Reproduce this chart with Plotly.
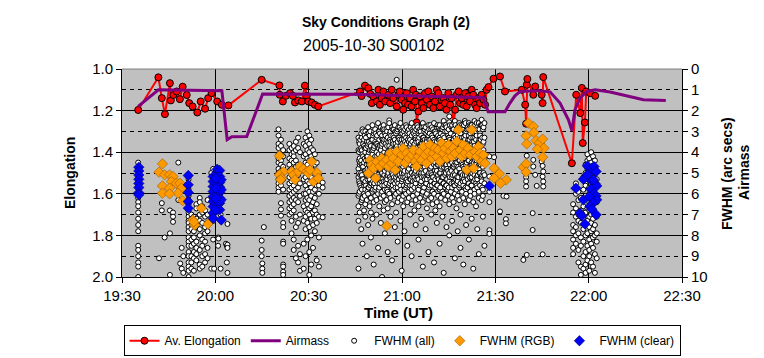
import plotly.graph_objects as go

# ---------------- data (time = minutes after 19:30 UT) ----------------
time_ticks = [0, 30, 60, 90, 120, 150, 180]
time_labels = ["19:30", "20:00", "20:30", "21:00", "21:30", "22:00", "22:30"]

elong_t = [5.2, 11.7, 12.8, 13.8, 15.4, 15.7, 16.5, 17.6, 18.6, 19.5, 20.8, 21.6, 22.7, 24.2, 25.3,
           26.7, 27.7, 28.8, 30.6, 32.1, 34.2, 44.9, 50.6, 50.7, 51.7, 52.7, 54.0, 54.9, 55.6, 56.7,
           57.8, 58.8, 59.4, 59.9, 61.0, 62.0, 63.1,
           76.5, 77.0, 78.1, 79.2, 79.8, 80.3, 80.8, 81.9, 82.4, 82.9, 83.5, 84.0, 84.6, 85.6, 86.2,
           86.7, 87.2, 88.3, 88.8, 89.3, 89.9, 90.4, 91.0, 91.5, 92.0, 92.6, 93.1, 93.6, 94.2, 94.5,
           94.7, 95.3, 95.8, 96.4, 96.9, 97.4, 98.0, 98.5, 99.0, 99.6, 100.1, 100.6, 101.2, 101.7,
           102.2, 102.7, 103.3, 103.8, 104.3, 104.9, 105.5, 106.0, 106.5, 107.1, 107.6, 108.2, 108.7,
           109.2, 109.7, 110.3, 110.8, 111.4, 111.9, 112.4, 112.9, 113.5, 114.0, 114.5, 115.1, 115.6,
           116.2, 116.7, 117.2, 117.8, 119.4, 121.5, 123.1, 128.5, 129.6, 129.9, 130.1, 130.3, 132.2,
           132.8, 134.9, 135.2, 135.4, 144.6, 146.0, 147.3, 147.8, 148.1, 148.8, 149.2, 150.5, 152.1]
elong_v = [1.197, 1.040, 1.140, 1.217, 1.068, 1.151, 1.125, 1.108, 1.145, 1.085, 1.125, 1.164, 1.180,
           1.209, 1.156, 1.191, 1.140, 1.116, 1.156, 1.172, 1.175, 1.052, 1.079, 1.124, 1.156, 1.129,
           1.116, 1.129, 1.161, 1.151, 1.156, 1.080, 1.129, 1.156, 1.161, 1.172, 1.180,
           1.108, 1.130, 1.080, 1.092, 1.120, 1.164, 1.132, 1.156, 1.100, 1.172, 1.140, 1.108, 1.156,
           1.124, 1.164, 1.100, 1.140, 1.180, 1.124, 1.108, 1.148, 1.196, 1.164, 1.116, 1.172, 1.140,
           1.180, 1.100, 1.156, 1.124, 1.257, 1.204, 1.132, 1.164, 1.188, 1.116, 1.148, 1.108, 1.172,
           1.132, 1.188, 1.156, 1.100, 1.116, 1.180, 1.148, 1.140, 1.164, 1.196, 1.116, 1.172, 1.140,
           1.284, 1.196, 1.124, 1.108, 1.164, 1.140, 1.172, 1.116, 1.180, 1.132, 1.156, 1.100, 1.124,
           1.172, 1.188, 1.140, 1.164, 1.124, 1.148, 1.172, 1.100, 1.087, 1.047, 1.036, 1.108, 1.100,
           1.172, 1.263, 1.076, 1.048, 1.124, 1.084, 1.124, 1.164, 1.039, 1.453, 1.124, 1.212, 1.091,
           1.356, 1.257, 1.108, 1.116, 1.129]

airmass_t = [5.2, 11.7, 32.1, 33.8, 35.3, 40.1, 45.2, 73.3, 95.0, 116.1, 117.7, 123.1, 124.7, 126.3,
             128.0, 133.3, 137.6, 140.8, 143.5, 144.6, 145.6, 147.2, 149.4, 152.1, 156.9, 167.6, 174.8]
airmass_v = [1.80, 1.00, 1.04, 3.40, 3.26, 3.25, 1.20, 1.21, 1.30, 1.37, 2.06, 2.06, 1.64, 1.29,
             1.08, 1.04, 1.10, 1.64, 2.44, 2.96, 1.96, 1.40, 1.08, 1.00, 1.11, 1.48, 1.51]

# FWHM (all): image time -> FWHM values of the stars measured in that image
fwhm_all = [
    (5.2, [4.5, 6.2, 6.4, 6.6, 6.9, 7.2, 7.5, 7.8, 8.5, 8.7, 9.0, 9.3, 9.5, 10.0]),
    (11.9, [9.1]), (12.8, [6.45, 6.8]), (13.7, [8.1]), (15.4, [6.8, 7.9, 9.9]),
    (16.4, [6.9, 7.1, 7.35]), (18.1, [4.5, 6.3]), (18.7, [9.35]), (19.2, [8.6, 9.6]), (19.7, [9.0, 9.8]),
    (21.4, [5.3, 5.6, 5.8, 6.1, 6.3, 6.5, 6.8, 6.9, 7.1, 7.3, 7.4, 7.6, 7.8, 8.1, 8.3, 8.5, 8.8, 9.0,
            9.3, 9.5, 9.7, 10.0]),
    (22.3, [7.0, 7.2, 7.5, 7.7, 8.2, 8.5, 9.0, 9.3, 9.6]),
    (23.1, [7.1, 7.4, 7.8, 8.1, 8.4, 8.8, 9.1, 9.7]),
    (23.9, [6.5, 6.7, 7.2, 7.6, 8.3, 8.6, 8.9, 9.2]),
    (25.0, [6.2, 6.4, 7.0, 7.3, 7.7, 8.0, 8.7, 9.4, 9.6]),
    (25.8, [6.6, 6.9, 7.4, 8.2, 8.5, 9.0, 9.5]),
    (26.7, [6.8, 7.1, 7.6, 7.9, 8.3, 8.9, 9.3]),
    (27.5, [6.3, 7.0, 7.4, 7.8, 8.6, 9.1]),
    (28.7, [5.0, 7.3, 9.6]),
    (29.3, [4.8, 5.3, 5.9, 6.4, 7.0, 7.3, 8.2]), (29.6, [9.6]),
    (30.2, [5.1, 5.7, 6.3, 6.8]), (30.9, [4.9, 5.5, 6.1, 6.7, 8.1, 8.5]),
    (31.0, [8.15]), (31.7, [7.0, 9.6]), (33.4, [8.4]), (33.7, [8.5, 9.3]),
    (33.9, [7.45, 8.45, 8.6, 9.8]),
    (44.9, [8.25, 8.7, 9.0]), (45.1, [9.35, 9.6, 9.8]), (45.6, [7.6]),
    (50.3, [2.9, 3.2, 3.6, 3.8, 4.1, 4.3, 4.5, 4.8, 5.0, 5.3, 5.5, 5.7, 5.9]),
    (51.1, [3.4, 3.7, 4.1, 4.4, 4.6, 4.9, 5.1, 5.4, 5.6, 6.45, 6.75, 7.05]),
    (51.8, [3.9, 4.2, 4.7, 5.3, 5.8, 7.4, 7.6, 8.3, 8.4, 9.4, 9.5, 9.75, 9.9]),
    (53.8, [3.6, 3.9, 4.3, 4.6, 4.9, 5.2, 5.5, 5.8, 6.1, 6.4, 6.7, 7.0]),
    (54.5, [3.8, 4.1, 4.4, 4.8, 5.1, 5.4, 5.7, 6.0, 6.3, 6.6, 6.9, 7.3, 7.9]),
    (55.2, [3.7, 4.0, 4.2, 4.5, 5.0, 5.3, 5.6, 5.9, 6.2, 6.5, 6.8, 8.2, 8.7]),
    (55.9, [3.5, 3.9, 4.4, 4.7, 5.2, 5.8, 6.3, 7.1, 7.6, 9.1]),
    (56.6, [3.3, 3.8, 4.6, 5.1, 5.7, 6.4, 7.4, 8.5, 9.3]),
    (57.2, [4.0, 4.8, 5.5, 6.1, 7.0, 8.9, 9.7]),
    (58.4, [3.6, 4.2, 4.7, 5.3, 6.0, 6.6, 7.3, 8.4, 9.6]),
    (59.0, [3.3, 3.7, 4.1, 4.5, 4.9, 5.2, 5.6, 6.0, 6.3, 6.8, 7.1, 7.7, 9.0]),
    (59.6, [3.0, 3.5, 3.9, 4.3, 4.6, 5.0, 5.4, 5.8, 6.2, 6.5, 6.9, 7.4, 8.2]),
    (60.2, [3.2, 3.6, 4.0, 4.4, 4.8, 5.1, 5.5, 5.9, 6.3, 6.7, 7.0, 7.6, 8.8, 9.9]),
    (60.8, [3.4, 3.8, 4.2, 4.7, 5.2, 5.7, 6.1, 6.6, 7.2, 8.0, 9.4]),
    (61.4, [3.9, 4.4, 4.9, 5.4, 5.9, 6.4, 6.9, 7.5, 8.6]),
    (62.0, [4.1, 4.6, 5.3, 5.8, 6.2, 6.8, 7.2, 7.8]),
    (62.6, [4.5, 5.0, 5.6, 6.5, 7.0, 7.4, 9.2]),
    (63.3, [5.1, 5.6, 6.0, 7.1, 8.1, 9.5]),
    (64.5, [5.46, 5.7, 7.13]),
    (76.0, [3.3, 3.9, 4.8, 5.2, 6.1, 6.6, 7.3, 9.6]),
    (76.2, [3.5, 4.0, 4.4, 5.0, 5.4, 6.0]),
    (76.4, [3.6, 4.3, 4.6, 5.5, 5.9, 6.9]),
    (76.6, [3.4, 3.9, 4.5, 5.1, 5.6]),
    (76.9, [3.1, 3.8, 4.4, 5.0, 5.7, 6.4, 7.7]),
    (77.1, [3.3, 3.9, 4.6, 5.1, 5.8, 6.3]),
    (77.3, [2.9, 4.1, 4.7, 5.3, 6.2, 8.4]),
    (77.5, [3.0, 3.6, 4.2, 4.7, 5.3]),
    (77.8, [3.4, 3.7, 4.5, 5.6, 6.0, 6.8]),
    (78.0, [3.2, 3.8, 4.3, 4.9, 5.5, 6.1]),
    (78.2, [3.0, 4.0, 4.9, 5.4, 5.8, 6.5, 7.1]),
    (78.4, [3.3, 3.8, 4.4, 5.0, 5.6]),
    (78.7, [3.5, 4.2, 4.6, 5.1, 6.3, 9.0]),
    (78.9, [3.1, 3.7, 4.2, 4.8, 5.3, 5.9]),
    (79.1, [2.8, 3.6, 4.4, 5.7, 6.0, 7.5]),
    (79.3, [3.1, 3.5, 4.0, 4.6, 5.2, 5.7]),
    (79.6, [3.2, 3.9, 4.8, 5.3, 6.6]),
    (79.8, [3.0, 3.6, 4.5, 4.9, 5.6, 6.2]),
    (80.0, [3.7, 4.3, 5.0, 5.5, 6.2, 6.9, 8.1]),
    (80.2, [3.4, 3.9, 4.6, 5.1, 5.5]),
    (80.5, [2.7, 3.4, 4.1, 4.7, 5.9, 7.2]),
    (80.7, [3.2, 3.9, 4.3, 5.0, 5.4, 5.8]),
    (80.9, [3.1, 3.8, 4.5, 5.2, 5.6, 6.4, 9.4]),
    (81.1, [3.0, 3.7, 4.3, 4.9, 5.5]),
    (81.4, [2.9, 3.5, 4.2, 4.9, 5.8, 6.1]),
    (81.6, [3.1, 3.6, 4.4, 4.7, 5.3, 5.7]),
    (81.8, [3.3, 4.0, 4.6, 5.4, 6.3, 7.0]),
    (82.0, [3.2, 3.6, 4.2, 4.8, 5.3]),
    (82.3, [2.6, 3.7, 4.4, 5.1, 5.5, 6.0, 8.6]),
    (82.5, [3.0, 3.8, 4.1, 4.6, 5.2, 5.8]),
    (82.7, [3.0, 3.4, 4.3, 4.8, 5.7, 6.6]),
    (82.9, [3.1, 3.7, 4.4, 4.7, 5.5]),
    (83.2, [2.8, 3.9, 4.5, 5.3, 6.2, 7.4]),
    (83.4, [3.3, 3.7, 4.3, 4.9, 5.4, 6.0]),
    (83.6, [3.2, 3.6, 4.1, 5.0, 5.6, 5.9, 10.0]),
    (83.8, [2.9, 3.4, 4.2, 4.8, 5.3]),
    (84.0, [2.84]),
    (84.1, [2.7, 3.5, 4.7, 5.4, 6.1, 6.8]),
    (84.3, [2.9, 3.4, 4.0, 4.6, 5.1, 5.6]),
    (84.5, [3.1, 3.8, 4.2, 4.9, 5.8, 6.4, 7.9]),
    (84.7, [3.2, 3.6, 4.3, 4.7, 5.4]),
    (85.0, [2.9, 3.4, 4.4, 5.2, 5.5, 6.3]),
    (85.2, [3.0, 3.7, 4.1, 4.8, 5.3, 5.8]),
    (85.4, [3.3, 4.0, 4.6, 5.1, 5.9, 6.7, 8.8]),
    (85.6, [2.8, 3.5, 4.1, 4.5, 5.0]),
    (85.9, [2.47, 2.6, 3.7, 4.3, 4.8, 5.6, 6.0]),
    (86.1, [3.1, 3.4, 4.2, 4.6, 5.2, 5.5]),
    (86.3, [3.0, 3.5, 4.5, 5.3, 6.2, 7.1]),
    (86.5, [3.2, 3.8, 4.3, 4.9, 5.4]),
    (86.8, [2.8, 3.9, 4.1, 5.0, 5.7, 6.5, 9.2]),
    (87.0, [2.9, 3.5, 4.0, 4.5, 5.1, 5.6]),
    (87.2, [3.2, 3.6, 4.7, 5.4, 5.8]),
    (87.4, [2.9, 3.3, 3.9, 4.6, 5.2]),
    (87.7, [2.7, 3.4, 4.2, 4.9, 5.5, 6.1, 7.6]),
    (87.9, [3.0, 3.6, 4.1, 4.7, 5.3, 5.7]),
    (88.1, [3.1, 3.8, 4.4, 5.2, 6.0, 6.9]),
    (88.3, [0.52]),
    (88.4, [3.0, 3.7, 4.2, 4.8, 5.4]),
    (88.6, [2.9, 3.5, 4.6, 5.1, 5.7, 6.4, 8.3]),
    (88.8, [2.8, 3.3, 4.0, 4.4, 5.0, 5.5]),
    (89.0, [3.3, 4.0, 4.3, 5.3, 5.9, 6.2]),
    (89.2, [2.8, 3.4, 4.0, 4.7, 5.1]),
    (89.5, [2.6, 3.7, 4.5, 4.8, 5.6, 7.3]),
    (89.7, [2.9, 3.5, 4.2, 4.6, 5.2, 5.8]),
    (89.9, [3.0, 3.4, 4.1, 5.0, 5.4, 6.3, 9.7]),
    (90.1, [3.1, 3.6, 4.3, 4.8, 5.3]),
    (90.4, [2.8, 3.9, 4.7, 5.2, 6.1, 6.6]),
    (90.6, [3.0, 3.4, 4.0, 4.5, 5.0, 5.6]),
    (90.8, [3.2, 3.6, 4.4, 4.9, 5.8, 7.8]),
    (91.0, [2.9, 3.5, 3.9, 4.6, 5.2]),
    (91.3, [2.7, 3.3, 4.2, 5.4, 5.7, 6.0]),
    (91.5, [2.8, 3.6, 4.1, 4.7, 5.3, 5.6]),
    (91.7, [3.1, 3.8, 4.6, 5.1, 5.5, 6.4, 8.5]),
    (91.9, [3.0, 3.4, 4.2, 4.9, 5.4]),
    (92.2, [2.9, 3.5, 4.0, 4.8, 5.9, 6.2]),
    (92.4, [3.1, 3.3, 3.9, 4.6, 5.1, 5.7]),
    (92.6, [3.4, 3.7, 4.5, 5.3, 5.6, 7.0]),
    (92.8, [2.8, 3.6, 4.1, 4.6, 5.3]),
    (93.1, [2.6, 3.2, 4.3, 5.0, 5.8, 6.5, 9.0]),
    (93.3, [2.9, 3.5, 4.0, 4.4, 5.2, 5.6]),
    (93.5, [3.0, 3.9, 4.1, 4.7, 5.4, 6.1]),
    (93.7, [3.1, 3.7, 4.3, 4.8, 5.1]),
    (94.0, [2.8, 3.6, 4.4, 5.2, 5.7, 6.8]),
    (94.2, [3.0, 3.2, 3.9, 4.5, 5.0, 5.4]),
    (94.4, [3.3, 3.4, 4.6, 4.9, 5.5, 6.3, 7.5]),
    (94.6, [2.9, 3.5, 4.0, 4.7, 5.3]),
    (94.9, [2.7, 3.8, 4.2, 5.1, 6.0]),
    (95.1, [2.8, 3.4, 4.1, 4.7, 5.2, 5.7]),
    (95.3, [3.1, 3.5, 4.5, 5.3, 5.8, 6.6, 8.2]),
    (95.5, [3.0, 3.3, 4.2, 4.5, 5.0]),
    (95.8, [2.9, 3.7, 4.0, 4.8, 5.6, 6.2]),
    (96.0, [3.0, 3.6, 3.9, 4.5, 5.1, 5.5]),
    (96.2, [3.2, 3.9, 4.4, 5.0, 5.4, 7.2]),
    (96.4, [2.8, 3.6, 4.1, 4.8, 5.2]),
    (96.7, [2.6, 3.3, 4.3, 4.7, 5.9, 6.4, 9.5]),
    (96.9, [2.8, 3.3, 4.0, 4.6, 5.0, 5.6]),
    (97.1, [3.0, 3.6, 4.6, 5.2, 5.7]),
    (97.3, [2.9, 3.4, 4.3, 4.7, 5.3]),
    (97.6, [2.8, 3.8, 4.1, 4.9, 5.5, 6.1, 7.7]),
    (97.8, [3.1, 3.5, 4.2, 4.4, 5.2, 5.5]),
    (98.0, [3.4, 3.5, 4.5, 5.3, 6.0, 6.7]),
    (98.2, [3.0, 3.7, 3.9, 4.6, 5.1]),
    (98.5, [2.7, 3.2, 4.2, 5.1, 5.8, 6.3, 8.8]),
    (98.7, [2.9, 3.4, 3.9, 4.6, 5.0, 5.7]),
    (98.9, [3.1, 3.9, 4.4, 4.8, 5.6]),
    (99.1, [2.7, 3.4, 4.2, 4.8, 5.3]),
    (99.4, [2.9, 3.6, 4.7, 5.0, 5.4, 6.2, 7.0]),
    (99.6, [2.8, 3.2, 4.1, 4.5, 5.1, 5.6]),
    (99.8, [3.3, 3.7, 4.0, 5.2, 5.9, 6.5]),
    (100.0, [2.9, 3.5, 4.0, 4.5, 5.2]),
    (100.3, [2.6, 3.4, 4.3, 4.6, 5.5, 6.0, 9.3]),
    (100.5, [3.0, 3.5, 3.8, 4.4, 4.9, 5.5]),
    (100.7, [3.0, 3.8, 4.5, 5.3, 5.7, 6.8]),
    (100.9, [3.1, 3.6, 4.3, 4.7, 5.0]),
    (101.2, [2.8, 3.5, 4.1, 4.9, 5.6, 6.4, 7.4]),
    (101.4, [2.7, 3.3, 4.0, 4.6, 5.2, 5.6]),
    (101.6, [3.2, 3.9, 4.6, 5.1, 6.1]),
    (101.8, [2.8, 3.4, 3.9, 4.5, 5.3]),
    (102.1, [2.7, 3.3, 4.4, 5.0, 5.8, 6.6, 8.4]),
    (102.3, [2.9, 3.4, 3.9, 4.5, 5.0, 5.7]),
    (102.5, [3.1, 3.6, 4.2, 4.8, 5.4, 6.2]),
    (102.7, [2.9, 3.5, 4.2, 4.7, 5.2]),
    (103.0, [2.9, 3.7, 4.5, 5.2, 5.9, 7.1]),
    (103.2, [2.8, 3.2, 4.1, 4.4, 5.2, 5.5]),
    (103.4, [2.5, 3.4, 4.0, 4.7, 5.5, 6.0, 9.8]),
    (103.6, [2.7, 3.3, 4.0, 4.6, 5.0]),
    (103.9, [3.0, 3.8, 4.3, 5.1, 5.7, 6.3]),
    (104.1, [2.7, 3.5, 3.9, 4.6, 5.0, 5.6]),
    (104.3, [2.8, 3.5, 4.6, 5.3, 5.6, 7.6]),
    (104.5, [3.0, 3.6, 4.1, 4.8, 5.3]),
    (104.8, [3.2, 3.9, 4.1, 4.9, 5.8, 6.1]),
    (105.0, [2.9, 3.3, 4.0, 4.5, 5.1, 5.7]),
    (105.2, [2.28, 2.56, 3.3, 4.4, 5.0, 5.4, 6.5, 8.0]),
    (105.4, [2.7, 3.4, 3.9, 4.6, 5.2]),
    (105.7, [3.1, 3.6, 4.2, 4.8, 5.9]),
    (105.9, [2.8, 3.5, 3.8, 4.4, 4.9, 5.5]),
    (106.1, [2.7, 3.7, 4.5, 5.2, 5.7, 6.2, 7.3]),
    (106.3, [2.9, 3.5, 4.2, 4.7, 5.1]),
    (106.6, [2.9, 3.4, 4.0, 4.7, 5.5, 6.4]),
    (106.8, [2.6, 3.2, 4.0, 4.6, 5.0, 5.6]),
    (107.0, [2.5, 3.8, 4.3, 5.1, 5.6, 6.0, 9.1]),
    (107.2, [2.7, 3.3, 4.0, 4.5, 5.3]),
    (107.5, [3.0, 3.5, 4.6, 4.9, 5.8, 6.7]),
    (107.7, [2.9, 3.4, 3.9, 4.5, 5.2, 5.5]),
    (107.9, [2.8, 3.2, 4.1, 5.3, 5.4, 6.1, 7.8]),
    (108.1, [3.0, 3.6, 4.3, 4.7, 5.2]),
    (108.4, [2.6, 3.9, 4.4, 4.8, 5.7, 6.3]),
    (108.6, [2.7, 3.3, 4.0, 4.4, 5.0, 5.6]),
    (108.8, [3.1, 3.6, 4.2, 5.0, 5.5, 7.0, 8.6]),
    (109.0, [2.8, 3.4, 3.9, 4.6, 5.0]),
    (109.3, [2.7, 3.3, 4.5, 5.2, 5.9]),
    (109.5, [2.8, 3.5, 3.8, 4.6, 5.1, 5.4]),
    (109.7, [2.9, 3.7, 4.0, 4.7, 5.6, 6.2, 9.4]),
    (109.9, [2.7, 3.3, 4.1, 4.8, 5.3]),
    (110.2, [2.5, 3.4, 4.3, 5.1, 5.4, 6.5]),
    (110.4, [2.6, 3.2, 4.1, 4.5, 4.9, 5.7]),
    (110.6, [3.0, 3.8, 4.6, 4.9, 5.8, 6.0, 7.5]),
    (110.8, [2.9, 3.6, 4.0, 4.5, 5.1]),
    (111.1, [2.8, 3.5, 4.1, 5.3, 5.7]),
    (111.3, [2.9, 3.4, 3.9, 4.4, 5.0, 5.5]),
    (111.5, [2.6, 3.2, 4.4, 4.8, 5.5, 6.3, 8.2]),
    (111.7, [2.7, 3.4, 4.2, 4.7, 5.2]),
    (112.0, [3.1, 3.9, 4.2, 5.0, 5.9, 6.1]),
    (112.2, [2.7, 3.3, 4.0, 4.6, 5.1, 5.6]),
    (112.4, [2.7, 3.6, 4.5, 5.2, 5.6, 7.2]),
    (112.6, [2.9, 3.5, 3.9, 4.6, 5.0]),
    (112.9, [2.9, 3.3, 4.0, 4.7, 5.4, 6.4, 9.6]),
    (113.1, [2.8, 3.5, 3.8, 4.5, 4.9, 5.4]),
    (113.3, [2.5, 3.7, 4.3, 5.1, 5.8, 6.0]),
    (113.5, [2.7, 3.3, 4.1, 4.4, 5.3]),
    (113.8, [3.0, 3.4, 4.6, 4.9, 5.5, 6.6]),
    (114.0, [2.6, 3.2, 4.1, 4.4, 5.2, 5.6]),
    (114.2, [2.8, 3.8, 4.1, 5.3, 5.7, 7.7]),
    (114.4, [2.9, 3.6, 4.0, 4.7, 5.1]),
    (114.7, [2.6, 3.5, 4.4, 4.8, 5.9, 6.2, 8.9]),
    (114.9, [2.9, 3.4, 3.9, 4.6, 5.0, 5.5]),
    (115.1, [3.1, 3.2, 4.2, 5.0, 5.6]),
    (115.3, [2.7, 3.4, 4.2, 4.6, 5.2]),
    (115.6, [2.44, 2.7, 3.9, 4.5, 5.2, 5.4, 6.3]),
    (115.8, [2.7, 3.3, 4.0, 4.5, 5.1, 5.7]),
    (116.0, [2.9, 3.6, 4.0, 4.7, 5.8, 6.1, 7.1]),
    (116.2, [2.8, 3.5, 3.9, 4.5, 5.0]),
    (116.5, [2.6, 3.3, 4.3, 5.1, 5.5, 8.5]),
    (118.1, [4.2, 5.17, 5.9, 6.4, 7.75, 7.92]),
    (119.6, [4.24]), (121.5, [6.85]), (122.6, [6.10]), (123.4, [7.22, 7.42]), (123.6, [6.13]),
    (129.0, [9.18]), (129.9, [5.0, 5.2, 5.4, 5.65]), (130.1, [4.17, 8.94]),
    (132.0, [6.93, 7.74]), (132.2, [4.37, 4.69]), (132.8, [5.09]), (133.3, [5.62]),
    (134.9, [4.45]), (135.2, [4.66, 5.17, 8.91]), (135.4, [4.93, 5.41, 5.65]),
    (145.0, [6.5, 6.9, 7.5, 7.8, 8.2, 8.6, 8.9]),
    (145.9, [5.5, 6.0, 6.7, 7.1, 7.6, 8.0, 8.4]),
    (146.7, [5.9, 6.3, 7.0, 7.3, 7.9, 8.7, 9.3]),
    (147.5, [6.2, 6.8, 7.4, 8.1, 8.5, 9.5, 9.9]),
    (148.3, [5.2, 5.8, 6.6, 7.2, 7.7, 8.3, 9.0, 9.6]),
    (149.0, [4.6, 5.0, 5.6, 6.1, 6.9, 7.5, 8.0, 8.8, 9.4, 9.8]),
    (149.6, [4.1, 4.4, 4.8, 5.4, 6.2, 6.7, 7.3, 7.9, 8.5, 9.2]),
    (150.2, [4.3, 4.9, 5.3, 5.7, 6.0, 6.4, 6.8, 7.1, 7.6, 8.2, 8.7, 9.0, 9.7]),
    (150.8, [4.0, 4.5, 5.1, 5.5, 5.9, 6.3, 6.6, 7.0, 7.4, 7.8, 8.4, 9.3]),
    (151.4, [4.2, 4.7, 5.2, 5.8, 6.1, 6.5, 7.2, 7.7, 8.1, 8.6, 9.5]),
    (152.0, [4.4, 5.0, 5.6, 6.2, 6.9, 7.5, 8.0, 8.9, 9.8]),
    (152.6, [5.3, 6.4, 7.1, 7.9, 8.3, 9.1]),
]

rgb_t = [13.0, 11.9, 13.7, 15.3, 16.4, 15.9, 17.5, 13.0, 15.3, 18.6, 19.1, 18.0, 13.0, 15.3, 19.5,
         25.5, 22.8, 23.4, 27.6, 23.1,
         50.6, 51.9, 50.6, 51.3, 51.0, 54.6, 55.1, 55.6, 56.7, 57.2, 58.3, 59.4, 59.9, 61.0, 61.5,
         62.6, 63.1, 60.4,
         79.2, 79.7, 80.3, 80.8, 81.5, 81.9, 82.9, 83.5, 84.0, 85.1, 85.6, 86.2, 86.7, 87.2, 87.8,
         88.3, 88.8, 89.9, 90.4, 91.0, 91.5, 92.1, 93.1, 93.7, 94.2, 94.7, 95.3, 95.8, 96.3, 96.9,
         97.4, 97.9, 98.5, 99.0, 99.6, 100.1, 100.6, 101.2, 101.7, 102.2, 102.8, 103.3, 103.8,
         104.4, 104.9, 105.5, 106.0, 106.5, 107.1, 107.6, 108.1, 108.7, 109.2, 109.7, 110.3, 110.8,
         111.3, 111.9, 112.4, 113.0, 113.5, 114.0, 114.6, 115.1, 115.6, 116.2, 116.7, 85.1,
         119.6, 121.3, 119.6, 123.5, 121.7, 129.0, 129.9, 129.9, 130.6, 132.2, 132.4, 129.9, 130.1,
         133.1, 134.2, 135.2, 135.6, 133.5, 135.2]
rgb_v = [4.56, 4.96, 5.09, 5.09, 5.17, 5.41, 5.49, 5.62, 5.73, 5.49, 5.73, 5.97, 5.97, 6.00, 6.33,
         6.69, 7.26, 7.50, 7.45, 7.35,
         4.17, 4.93, 5.09, 5.25, 5.33, 4.93, 5.09, 5.33, 4.93, 4.69, 4.81, 4.93, 5.01, 4.45, 5.41,
         4.98, 5.25, 4.85,
         5.01, 4.37, 4.61, 4.77, 5.25, 4.45, 4.69, 4.29, 4.53, 4.37, 4.69, 4.05, 4.53, 4.29, 4.85,
         3.97, 4.45, 4.13, 3.81, 4.53, 4.05, 4.29, 4.13, 3.89, 4.45, 4.69, 4.21, 3.97, 4.37, 3.72,
         4.13, 4.53, 3.97, 3.64, 4.29, 4.05, 3.81, 4.21, 3.89, 4.45, 3.56, 4.05, 3.81, 4.29, 3.64,
         3.97, 4.21, 3.81, 4.05, 3.48, 2.92, 3.89, 4.21, 3.64, 4.05, 4.85, 3.81, 4.13, 2.92, 4.77,
         3.97, 4.21, 3.72, 4.05, 4.45, 4.13, 4.53, 7.54,
         4.77, 5.04, 5.25, 5.33, 5.49, 4.72, 4.56, 4.96, 2.60, 2.76, 3.05, 3.21, 3.60, 3.44, 3.56,
         3.37, 3.81, 3.85, 4.24]

clear_t = [5.4, 5.4, 5.4, 5.4, 5.4, 5.4, 5.4, 5.4,
           21.3, 21.3, 21.3, 21.3, 21.3,
           29.3, 29.3, 29.3, 29.3, 29.3, 29.3, 29.3, 29.3, 29.3,
           30.6, 30.6, 30.6, 30.6, 30.6, 30.6, 30.6, 30.6,
           31.4, 31.4, 31.4, 31.4, 31.4, 31.4, 31.4, 31.4,
           31.9, 31.9, 31.9, 31.9, 30.1, 30.1, 30.1, 30.1,
           118.1,
           145.9, 148.3, 147.2, 147.8, 148.8, 149.6, 150.2, 151.0, 151.7, 152.4, 149.9, 148.3, 151.3,
           152.1, 152.6, 150.7, 151.7, 152.4, 150.2, 152.6, 151.3, 150.4, 151.0, 152.4, 151.5, 149.6]
clear_v = [4.72, 4.90, 5.10, 5.30, 5.50, 5.70, 5.95, 6.05,
           5.12, 5.57, 5.94, 6.37, 6.69,
           5.17, 5.41, 5.65, 5.89, 6.13, 6.37, 6.61, 6.93, 7.18,
           4.82, 5.09, 5.33, 5.57, 5.81, 6.05, 6.29, 6.53,
           4.88, 5.17, 5.46, 5.68, 5.94, 6.21, 6.45, 6.77,
           5.33, 5.81, 6.29, 7.26, 5.25, 5.73, 6.21, 6.77,
           5.62,
           5.73, 6.29, 6.93, 7.06, 7.45, 4.66, 5.01, 4.77, 4.69, 4.93, 5.25, 5.30, 5.41,
           5.52, 5.62, 5.78, 6.00, 6.10, 6.13, 6.29, 6.45, 6.61, 6.74, 7.01, 5.33, 5.09]

# ---------------- figure ----------------
all_t = [t for t, vals in fwhm_all for _ in vals]
all_v = [v for _, vals in fwhm_all for v in vals]

fig = go.Figure()
fig.add_trace(go.Scatter(
    x=elong_t, y=elong_v, name="Av. Elongation", mode="lines+markers", yaxis="y",
    line=dict(color="#ff0000", width=2),
    marker=dict(symbol="circle", size=7, color="#ff0000", line=dict(color="black", width=1))))
fig.add_trace(go.Scatter(
    x=airmass_t, y=airmass_v, name="Airmass", mode="lines", yaxis="y2",
    line=dict(color="#800080", width=3)))
fig.add_trace(go.Scatter(
    x=all_t, y=all_v, name="FWHM (all)", mode="markers", yaxis="y2",
    marker=dict(symbol="circle", size=5, color="white", line=dict(color="black", width=1))))
fig.add_trace(go.Scatter(
    x=rgb_t, y=rgb_v, name="FWHM (RGB)", mode="markers", yaxis="y2",
    marker=dict(symbol="diamond", size=8, color="#ff9900", line=dict(color="#9a5a00", width=0.6))))
fig.add_trace(go.Scatter(
    x=clear_t, y=clear_v, name="FWHM (clear)", mode="markers", yaxis="y2",
    marker=dict(symbol="diamond", size=8, color="#0000ff", line=dict(color="#000060", width=0.6))))

# the page body has an 8px default margin, so the figure is 8px smaller and offset
FONT = "Liberation Sans, Arial, sans-serif"
fig.update_layout(
    width=756, height=350,
    margin=dict(l=114, r=82, t=61, b=81, autoexpand=False),
    paper_bgcolor="white", plot_bgcolor="#c0c0c0",
    font=dict(family=FONT, color="black", size=15),
    legend=dict(orientation="h", x=0.5, xanchor="center", y=-0.232, yanchor="top",
                bordercolor="black", borderwidth=1, bgcolor="white",
                font=dict(size=12, family=FONT), tracegroupgap=0, itemwidth=30),
    xaxis=dict(range=[0, 180], tickvals=time_ticks, ticktext=time_labels,
               showgrid=True, gridcolor="black", gridwidth=1, zeroline=False,
               showline=True, linecolor="black", linewidth=1, automargin=False,
               ticks="outside", ticklen=5, tickcolor="black", tickfont=dict(size=15)),
    yaxis=dict(range=[2.0, 1.0], tick0=1.0, dtick=0.2, tickformat=".1f",
               showgrid=True, gridcolor="black", gridwidth=1, zeroline=False, automargin=False,
               minor=dict(tick0=1.0, dtick=0.1, showgrid=True, gridcolor="black",
                          griddash="4px,4px", gridwidth=1),
               showline=True, linecolor="black", linewidth=1,
               ticks="outside", ticklen=5, tickcolor="black", tickfont=dict(size=15)),
    yaxis2=dict(range=[10, 0], tick0=0, dtick=1, overlaying="y", side="right", automargin=False,
                showgrid=False, zeroline=False, showline=True, linecolor="black", linewidth=1,
                ticks="outside", ticklen=5, tickcolor="black", tickfont=dict(size=15)),
    shapes=[dict(type="line", xref="paper", yref="paper", x0=0, x1=1, y0=1, y1=1,
                 line=dict(color="#808080", width=1), layer="above")],
    annotations=[
        dict(text="<b>Sky Conditions Graph (2)</b>", x=0.4714, y=1.226, xref="paper", yref="paper",
             showarrow=False, xanchor="center", yanchor="middle", font=dict(size=14)),
        dict(text="2005-10-30 S00102", x=0.45, y=1.115, xref="paper", yref="paper",
             showarrow=False, xanchor="center", yanchor="middle", font=dict(size=16)),
        dict(text="<b>Elongation</b>", x=-0.0929, y=0.5, xref="paper", yref="paper",
             showarrow=False, textangle=-90, xanchor="center", yanchor="middle", font=dict(size=14)),
        dict(text="<b>FWHM (arc secs)</b>", x=1.0804, y=0.495, xref="paper", yref="paper",
             showarrow=False, textangle=-90, xanchor="center", yanchor="middle", font=dict(size=14)),
        dict(text="<b>Airmass</b>", x=1.1107, y=0.505, xref="paper", yref="paper",
             showarrow=False, textangle=-90, xanchor="center", yanchor="middle", font=dict(size=14)),
        dict(text="<b>Time (UT)</b>", x=0.4946, y=-0.173, xref="paper", yref="paper",
             showarrow=False, xanchor="center", yanchor="middle", font=dict(size=15)),
    ],
)

fig.write_html("out.html")
